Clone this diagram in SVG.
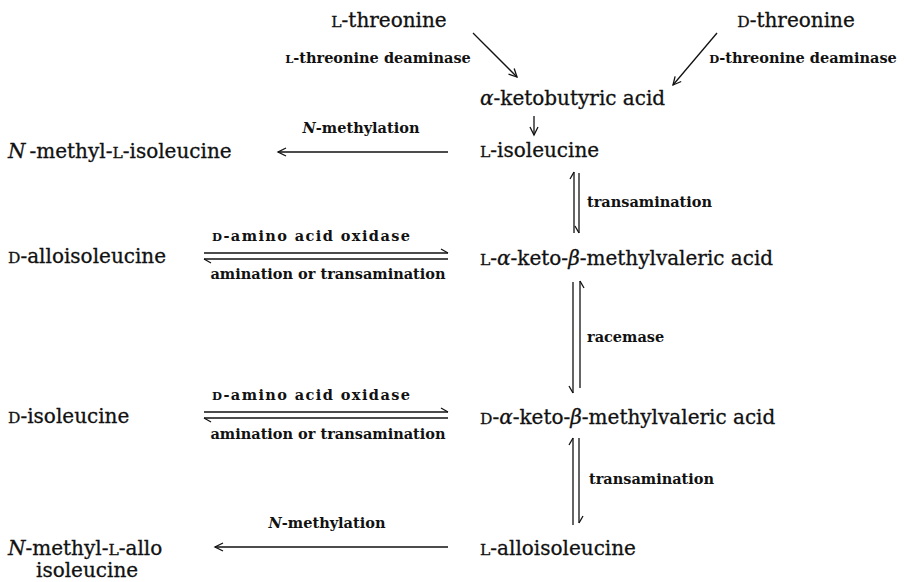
<svg xmlns="http://www.w3.org/2000/svg" width="904" height="582" viewBox="0 0 904 582">
<style>
.m{font-family:"DejaVu Serif","Liberation Serif",serif;font-size:20px;fill:#111;stroke:#111;stroke-width:0.3}
.s{font-family:"DejaVu Serif","Liberation Serif",serif;font-size:14.5px;font-weight:bold;fill:#111}
.sc{font-size:15.5px}
.s .sc{font-size:11.5px}
.i{font-style:italic}
.ln{stroke:#111;stroke-width:1.3;fill:none}
</style>
<defs>
<marker id="ah" markerUnits="userSpaceOnUse" markerWidth="14" markerHeight="12" refX="10" refY="6" orient="auto" viewBox="0 0 14 12">
<path d="M2,2 L10,6 L2,10" fill="none" stroke="#111" stroke-width="1.3"/>
</marker>
<marker id="hA" markerUnits="userSpaceOnUse" markerWidth="14" markerHeight="12" refX="10" refY="8" orient="auto" viewBox="0 0 14 12">
<path d="M3,4 L10,8" fill="none" stroke="#111" stroke-width="1.3"/>
</marker>
<marker id="hB" markerUnits="userSpaceOnUse" markerWidth="14" markerHeight="12" refX="10" refY="4" orient="auto" viewBox="0 0 14 12">
<path d="M3,8 L10,4" fill="none" stroke="#111" stroke-width="1.3"/>
</marker>
</defs>

<g id="connectors">
<line class="ln" x1="473" y1="33" x2="517" y2="77" marker-end="url(#ah)"/>
<line class="ln" x1="717" y1="33" x2="673" y2="85" marker-end="url(#ah)"/>
<line class="ln" x1="534" y1="116" x2="534" y2="135" marker-end="url(#ah)"/>
<line class="ln" x1="448" y1="152" x2="278" y2="152" marker-end="url(#ah)"/>
<line class="ln" x1="574" y1="233" x2="574" y2="172" marker-end="url(#hA)"/>
<line class="ln" x1="579" y1="173" x2="579" y2="233" marker-end="url(#hB)"/>
<line class="ln" x1="204" y1="253" x2="448" y2="253" marker-end="url(#hA)"/>
<line class="ln" x1="448" y1="259" x2="204" y2="259" marker-end="url(#hA)"/>
<line class="ln" x1="573" y1="282" x2="573" y2="393" marker-end="url(#hB)"/>
<line class="ln" x1="580" y1="388" x2="580" y2="281" marker-end="url(#hB)"/>
<line class="ln" x1="204" y1="412" x2="448" y2="412" marker-end="url(#hA)"/>
<line class="ln" x1="448" y1="418" x2="204" y2="418" marker-end="url(#hA)"/>
<line class="ln" x1="573" y1="525" x2="573" y2="438" marker-end="url(#hA)"/>
<line class="ln" x1="579" y1="438" x2="579" y2="523" marker-end="url(#hA)"/>
<line class="ln" x1="448" y1="547" x2="215" y2="547" marker-end="url(#ah)"/>
</g>

<g id="labels">
<text class="s" x="378" y="63" text-anchor="middle"><tspan class="sc">L</tspan>-threonine deaminase</text>
<text class="s" x="803" y="63" text-anchor="middle"><tspan class="sc">D</tspan>-threonine deaminase</text>
<text class="s" x="361" y="133" text-anchor="middle"><tspan class="i">N</tspan>-methylation</text>
<text class="s" x="587" y="207">transamination</text>
<text class="s" x="212" y="241" textLength="198" lengthAdjust="spacing"><tspan class="sc">D</tspan>-amino acid oxidase</text>
<text class="s" x="328" y="279" text-anchor="middle">amination or transamination</text>
<text class="s" x="587" y="342">racemase</text>
<text class="s" x="212" y="400" textLength="198" lengthAdjust="spacing"><tspan class="sc">D</tspan>-amino acid oxidase</text>
<text class="s" x="328" y="439" text-anchor="middle">amination or transamination</text>
<text class="s" x="589" y="484">transamination</text>
<text class="s" x="327" y="528" text-anchor="middle"><tspan class="i">N</tspan>-methylation</text>
</g>

<g id="l-threonine"><text class="m" x="389" y="27" text-anchor="middle"><tspan class="sc">L</tspan>-threonine</text></g>
<g id="d-threonine"><text class="m" x="796" y="27" text-anchor="middle"><tspan class="sc">D</tspan>-threonine</text></g>
<g id="ketobutyric"><text class="m" x="480" y="105"><tspan class="i">α</tspan>-ketobutyric acid</text></g>
<g id="l-isoleucine"><text class="m" x="480" y="157"><tspan class="sc">L</tspan>-isoleucine</text></g>
<g id="n-methyl-l-isoleucine"><text class="m" x="8" y="158"><tspan class="i">N</tspan><tspan dx="4">-methyl-</tspan><tspan class="sc">L</tspan>-isoleucine</text></g>
<g id="d-alloisoleucine"><text class="m" x="8" y="263"><tspan class="sc">D</tspan>-alloisoleucine</text></g>
<g id="l-keto"><text class="m" x="480" y="265"><tspan class="sc">L</tspan>-<tspan class="i">α</tspan>-keto-<tspan class="i">β</tspan>-methylvaleric acid</text></g>
<g id="d-isoleucine"><text class="m" x="8" y="423"><tspan class="sc">D</tspan>-isoleucine</text></g>
<g id="d-keto"><text class="m" x="480" y="424"><tspan class="sc">D</tspan>-<tspan class="i">α</tspan>-keto-<tspan class="i">β</tspan>-methylvaleric acid</text></g>
<g id="l-alloisoleucine"><text class="m" x="480" y="555"><tspan class="sc">L</tspan>-alloisoleucine</text></g>
<g id="n-methyl-l-alloisoleucine"><text class="m" x="8" y="555"><tspan class="i">N</tspan>-methyl-<tspan class="sc">L</tspan>-allo</text><text class="m" x="36" y="577">isoleucine</text></g>
</svg>
